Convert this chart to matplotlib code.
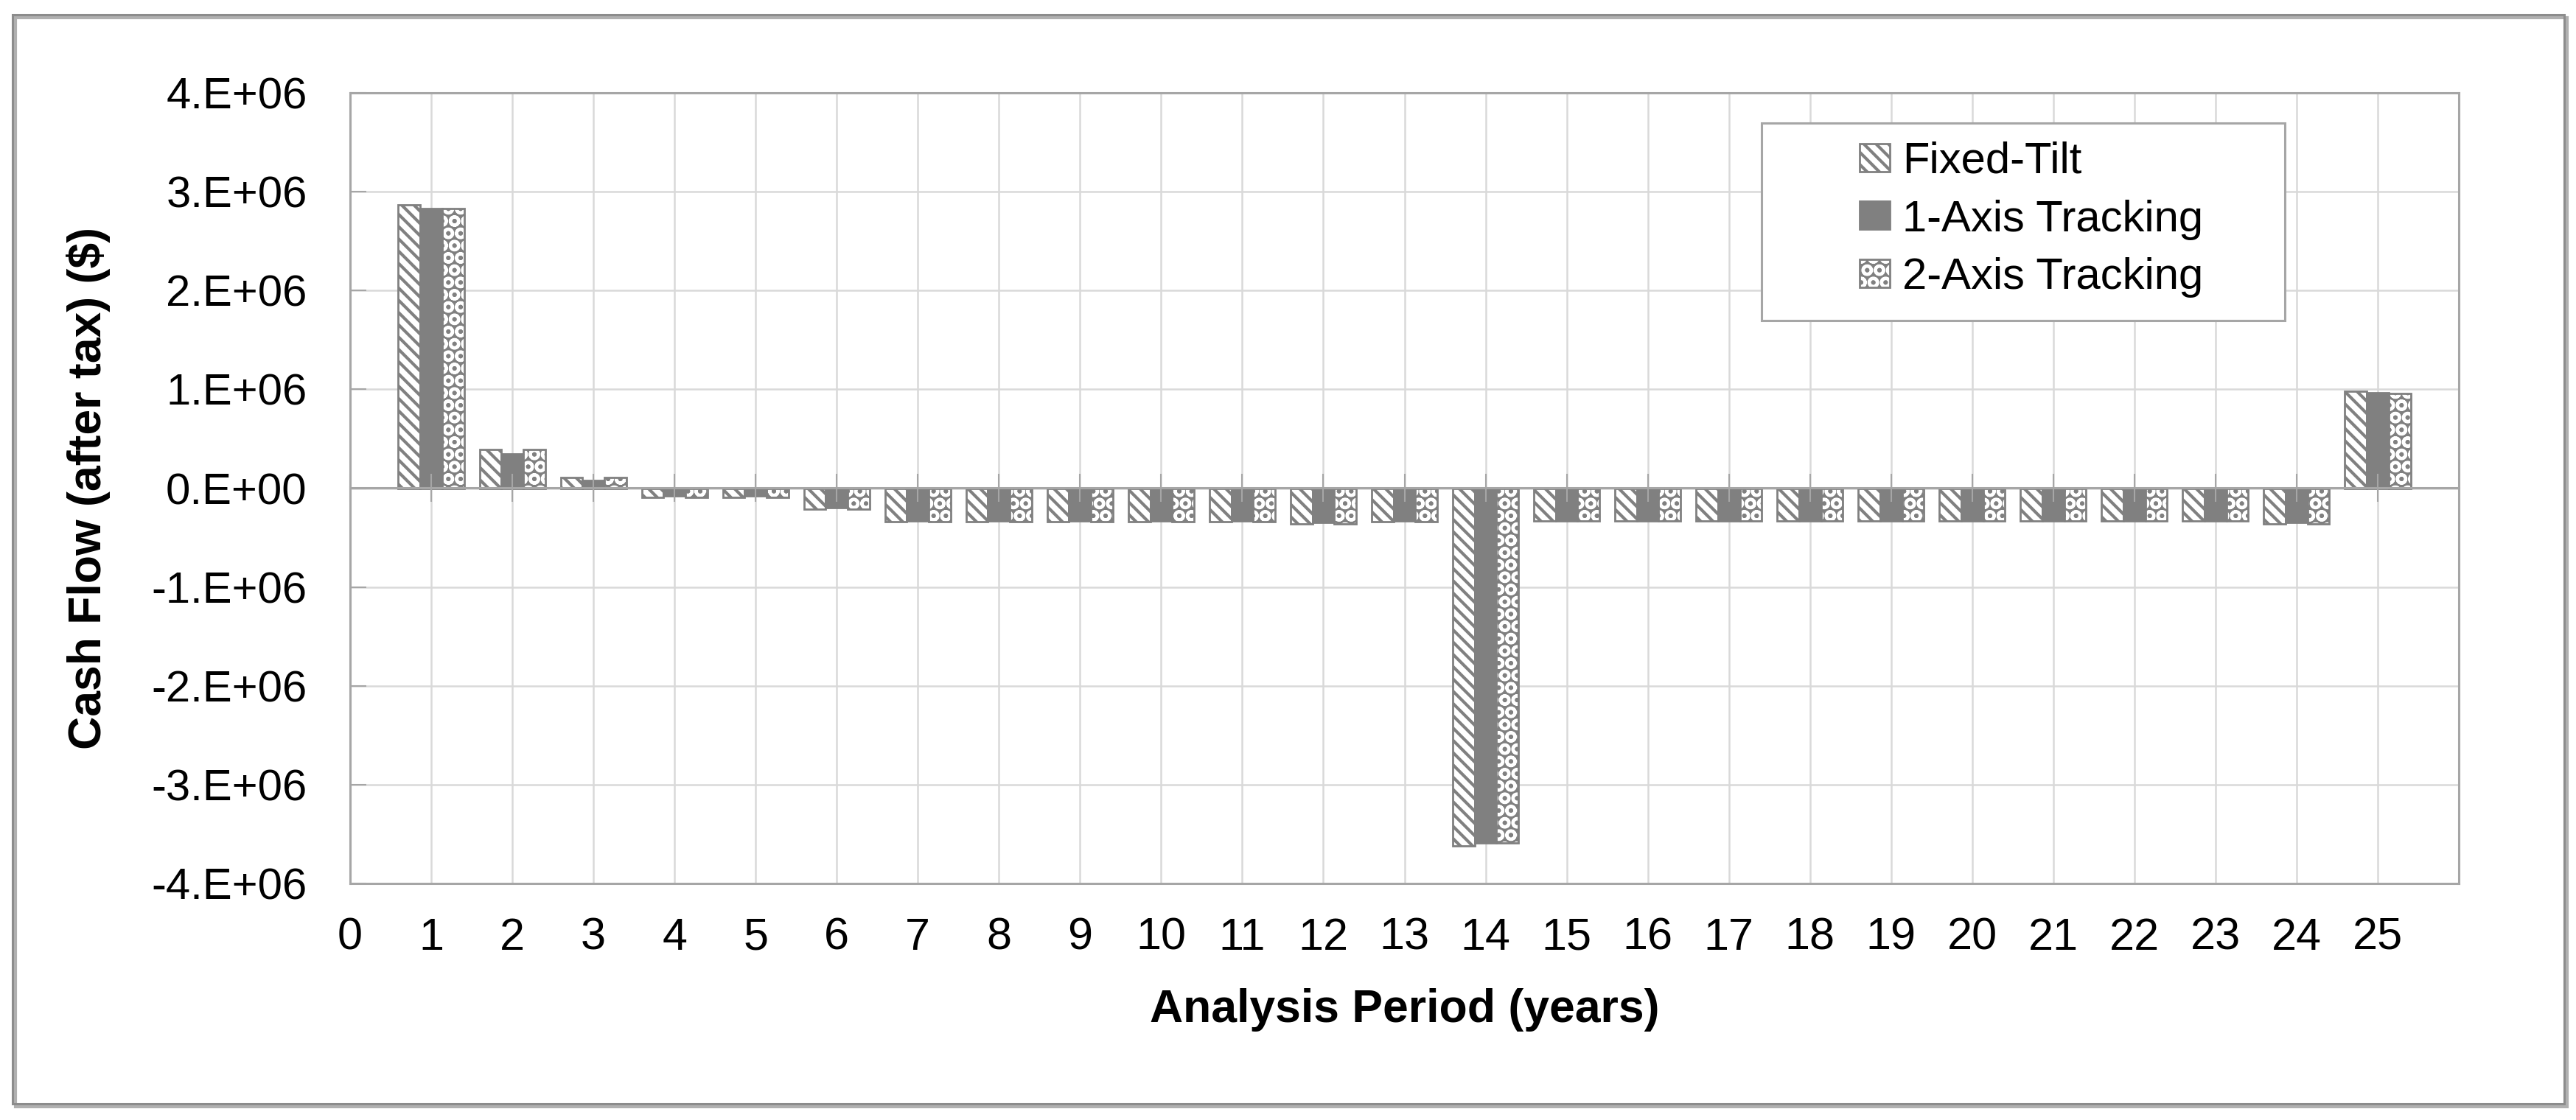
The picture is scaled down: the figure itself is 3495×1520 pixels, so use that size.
"""
Cash flow (after tax) by analysis period - Fixed-Tilt / 1-Axis / 2-Axis
"""
import matplotlib
matplotlib.use("Agg")
import matplotlib.pyplot as plt
from matplotlib.patches import Patch, Rectangle
import numpy as np

plt.rcParams["font.family"] = ["Liberation Sans", "DejaVu Sans"]
plt.rcParams["hatch.linewidth"] = 3.0

# データ (年ごとのキャッシュフロー, $)
years = np.arange(1, 26)
fixed_tilt = [2.87e6, 0.39e6, 0.11e6, -0.09e6, -0.09e6, -0.21e6, -0.34e6, -0.34e6, -0.34e6,
              -0.34e6, -0.34e6, -0.36e6, -0.34e6, -3.62e6, -0.33e6, -0.33e6, -0.33e6, -0.33e6,
              -0.33e6, -0.33e6, -0.33e6, -0.33e6, -0.33e6, -0.36e6, 0.98e6]
one_axis = [2.83e6, 0.35e6, 0.08e6, -0.08e6, -0.08e6, -0.20e6, -0.33e6, -0.33e6, -0.33e6,
            -0.33e6, -0.33e6, -0.35e6, -0.33e6, -3.59e6, -0.33e6, -0.33e6, -0.33e6, -0.33e6,
            -0.33e6, -0.33e6, -0.33e6, -0.33e6, -0.33e6, -0.35e6, 0.965e6]
two_axis = [2.83e6, 0.39e6, 0.11e6, -0.09e6, -0.09e6, -0.21e6, -0.34e6, -0.34e6, -0.34e6,
            -0.34e6, -0.34e6, -0.36e6, -0.34e6, -3.59e6, -0.33e6, -0.33e6, -0.33e6, -0.33e6,
            -0.33e6, -0.33e6, -0.33e6, -0.33e6, -0.33e6, -0.36e6, 0.96e6]
series_names = ["Fixed-Tilt", "1-Axis Tracking", "2-Axis Tracking"]

xtick_values = list(range(0, 26))
xtick_labels = [str(i) for i in xtick_values]
ytick_values = [-4e6, -3e6, -2e6, -1e6, 0, 1e6, 2e6, 3e6, 4e6]
ytick_labels = ["-4.E+06", "-3.E+06", "-2.E+06", "-1.E+06", "0.E+00",
                "1.E+06", "2.E+06", "3.E+06", "4.E+06"]

gray = "#808080"
axis_gray = "#a6a6a6"
grid_gray = "#d9d9d9"
W, H = 3495, 1520

fig = plt.figure(figsize=(W / 100, H / 100), dpi=100)
# プロット領域(ピクセルで指定)
ax = fig.add_axes([475 / W, 1 - 1199 / H, (3336 - 475) / W, (1199 - 126) / H])

bw = 0.27
ax.bar(years - bw, fixed_tilt, bw, facecolor="white", edgecolor=gray,
       hatch="\\\\", linewidth=2, zorder=2)
ax.bar(years, one_axis, bw, facecolor=gray, edgecolor=gray, linewidth=2, zorder=2)
ax.bar(years + bw, two_axis, bw, facecolor=gray, edgecolor="white",
       hatch="O", linewidth=0, zorder=2)
ax.bar(years + bw, two_axis, bw, fill=False, edgecolor=gray, linewidth=2, zorder=2)

ax.set_xlim(0, 26)
ax.set_ylim(-4e6, 4e6)
ax.set_xticks(xtick_values, xtick_labels)
ax.set_yticks(ytick_values, ytick_labels)
ax.grid(True, color=grid_gray, linewidth=1.8)
ax.set_axisbelow(True)
for s in ax.spines.values():
    s.set_color(axis_gray)
    s.set_linewidth(2.2)
ax.tick_params(axis="x", length=0, pad=33, labelsize=44)
ax.tick_params(axis="y", direction="in", length=16, width=1.5, color=axis_gray,
               pad=42, labelsize=43)

# ゼロ位置の横軸(目盛りは軸をまたぐ)
sec = ax.secondary_xaxis(0.5)
sec.set_xticks(xtick_values)
sec.tick_params(direction="inout", length=28, width=1.5, color=axis_gray,
                labeltop=False, labelbottom=False)
for s in sec.spines.values():
    s.set_color(axis_gray)
    s.set_linewidth(2.2)
sec.set_zorder(3)

ax.set_xlabel("Analysis Period (years)", fontsize=45, fontweight="bold", va="center")
ax.xaxis.set_label_coords(0.5, -0.16)
ax.set_ylabel("Cash Flow (after tax) ($)", fontsize=45, fontweight="bold", va="center")
ax.yaxis.set_label_coords(-0.124, 0.5)

# 凡例
h1 = Patch(facecolor="white", edgecolor=gray, hatch="\\\\", linewidth=2)
h2 = Patch(facecolor=gray, edgecolor=gray, linewidth=2)
h3 = (Patch(facecolor=gray, edgecolor="white", hatch="O", linewidth=0),
      Patch(fill=False, edgecolor=gray, linewidth=2))
ax.add_patch(Rectangle((0.6693, 0.712), 0.2482, 0.2498, transform=ax.transAxes,
                       facecolor="white", edgecolor=axis_gray, linewidth=2.2, zorder=4))
ax.legend([h1, h2, h3], series_names, loc="center left", bbox_to_anchor=(0.7158, 0.8397),
          frameon=False, fontsize=43, handlelength=0.69, handleheight=0.6,
          handletextpad=0.28, labelspacing=0.4, borderpad=0, borderaxespad=0)

# 外枠
fig.add_artist(Rectangle((21 / W, 1 - 1502 / H), 3462 / W, 1478 / H, transform=fig.transFigure,
                         facecolor="none", edgecolor="#b0b0b0", linewidth=3))
fig.add_artist(Rectangle((17 / W, 1 - 1498 / H), 3462 / W, 1478 / H, transform=fig.transFigure,
                         facecolor="none", edgecolor="#8c8c8c", linewidth=2.2))

fig.savefig("out.png", dpi=100)
